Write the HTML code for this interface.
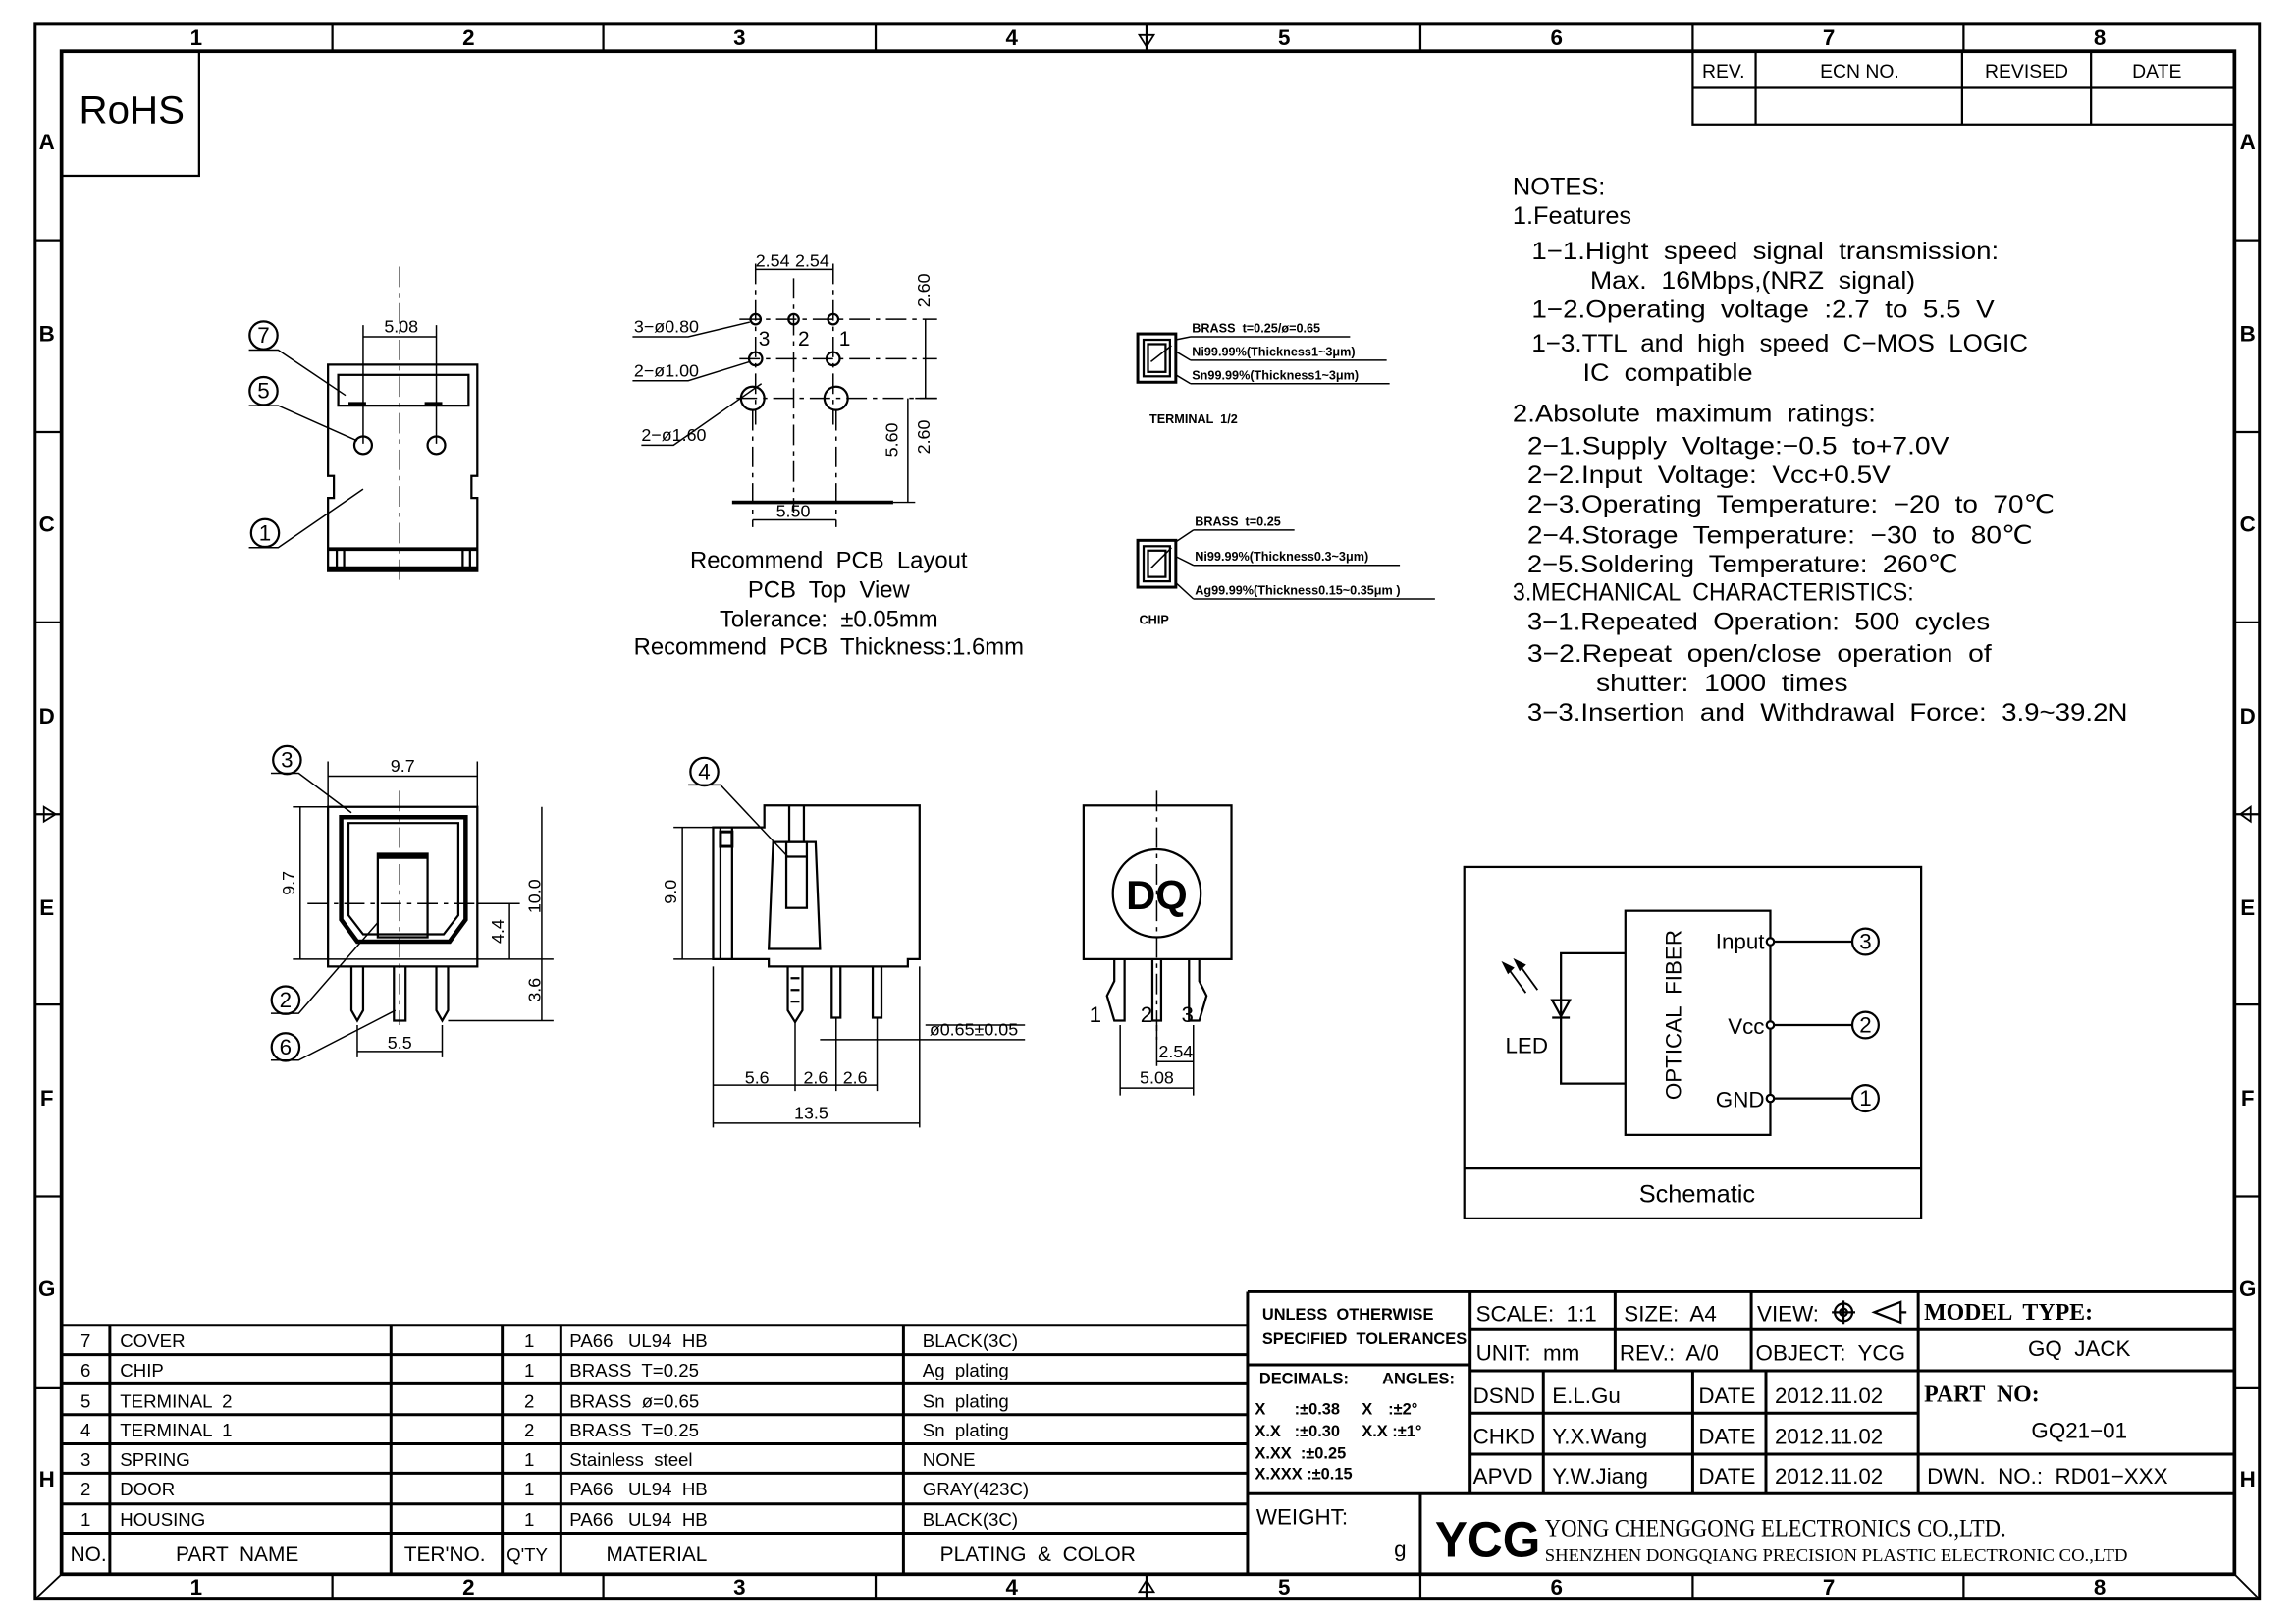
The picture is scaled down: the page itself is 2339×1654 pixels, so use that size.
<!DOCTYPE html>
<html><head><meta charset="utf-8"><style>
html,body{margin:0;padding:0;background:#fff}
svg{display:block}
text{font-family:"Liberation Sans",sans-serif;fill:#000;white-space:pre}
</style></head><body>
<svg width="2339" height="1654" viewBox="0 0 1568 1109" preserveAspectRatio="none" xmlns="http://www.w3.org/2000/svg" xml:space="preserve">
<g fill="none" stroke="#000">
<rect x="24" y="16" width="1519" height="1076" stroke-width="2"/>
<rect x="42" y="35" width="1484" height="1040" stroke-width="2.5"/>
<path d="M227 16V35M412 16V35M598 16V35M783 16V35M970 16V35M1156 16V35M1341 16V35M227 1075V1092M412 1075V1092M598 1075V1092M783 1075V1092M970 1075V1092M1156 1075V1092M1341 1075V1092" stroke-width="1.5"/>
<path d="M24 164H42M24 295H42M24 425H42M24 556H42M24 686H42M24 817H42M24 948H42M1526 164H1543M1526 295H1543M1526 425H1543M1526 556H1543M1526 686H1543M1526 817H1543M1526 948H1543" stroke-width="1.5"/>
<path d="M778 24L788 24L783 32ZM778 1087L788 1087L783 1079ZM30 551V561L38 556ZM1537 551V561L1530 556Z" stroke-width="1.2"/>
<path d="M24 1092L42 1075M1543 1092L1526 1075" stroke-width="1.2"/>
</g>
<g font-size="15" font-weight="bold" text-anchor="middle">
<text x="134" y="31">1</text><text x="320" y="31">2</text><text x="505" y="31">3</text><text x="691" y="31">4</text><text x="877" y="31">5</text><text x="1063" y="31">6</text><text x="1249" y="31">7</text><text x="1434" y="31">8</text>
<text x="134" y="1089">1</text><text x="320" y="1089">2</text><text x="505" y="1089">3</text><text x="691" y="1089">4</text><text x="877" y="1089">5</text><text x="1063" y="1089">6</text><text x="1249" y="1089">7</text><text x="1434" y="1089">8</text>
<text x="32" y="102">A</text><text x="32" y="233">B</text><text x="32" y="363">C</text><text x="32" y="494">D</text><text x="32" y="625">E</text><text x="32" y="755">F</text><text x="32" y="885">G</text><text x="32" y="1015">H</text>
<text x="1535" y="102">A</text><text x="1535" y="233">B</text><text x="1535" y="363">C</text><text x="1535" y="494">D</text><text x="1535" y="625">E</text><text x="1535" y="755">F</text><text x="1535" y="885">G</text><text x="1535" y="1015">H</text>
</g>
<rect x="42" y="35" width="94" height="85" fill="none" stroke="#000" stroke-width="1.5"/>
<text x="90" y="84" font-size="27" text-anchor="middle">RoHS</text>
<g fill="none" stroke="#000" stroke-width="1.5"><rect x="1156" y="35" width="370" height="50"/><path d="M1156 60H1526M1199 35V85M1340 35V85M1428 35V85"/></g>
<g font-size="13" text-anchor="middle"><text x="1177" y="53">REV.</text><text x="1270" y="53">ECN NO.</text><text x="1384" y="53">REVISED</text><text x="1473" y="53">DATE</text></g>
<g font-size="17">
<text x="1033" y="133">NOTES:</text>
<text x="1033" y="153">1.Features</text>
<text x="1046" y="177" textLength="319" lengthAdjust="spacingAndGlyphs">1−1.Hight  speed  signal  transmission:</text>
<text x="1086" y="197" textLength="222" lengthAdjust="spacingAndGlyphs">Max.  16Mbps,(NRZ  signal)</text>
<text x="1046" y="217" textLength="316" lengthAdjust="spacingAndGlyphs">1−2.Operating  voltage  :2.7  to  5.5  V</text>
<text x="1046" y="240" textLength="339" lengthAdjust="spacingAndGlyphs">1−3.TTL  and  high  speed  C−MOS  LOGIC</text>
<text x="1081" y="260" textLength="116" lengthAdjust="spacingAndGlyphs">IC  compatible</text>
<text x="1033" y="288" textLength="248" lengthAdjust="spacingAndGlyphs">2.Absolute  maximum  ratings:</text>
<text x="1043" y="310" textLength="288" lengthAdjust="spacingAndGlyphs">2−1.Supply  Voltage:−0.5  to+7.0V</text>
<text x="1043" y="330" textLength="248" lengthAdjust="spacingAndGlyphs">2−2.Input  Voltage:  Vcc+0.5V</text>
<text x="1043" y="350" textLength="360" lengthAdjust="spacingAndGlyphs">2−3.Operating  Temperature:  −20  to  70℃</text>
<text x="1043" y="371" textLength="345" lengthAdjust="spacingAndGlyphs">2−4.Storage  Temperature:  −30  to  80℃</text>
<text x="1043" y="391" textLength="294" lengthAdjust="spacingAndGlyphs">2−5.Soldering  Temperature:  260℃</text>
<text x="1033" y="410" textLength="274" lengthAdjust="spacingAndGlyphs">3.MECHANICAL  CHARACTERISTICS:</text>
<text x="1043" y="430" textLength="316" lengthAdjust="spacingAndGlyphs">3−1.Repeated  Operation:  500  cycles</text>
<text x="1043" y="452" textLength="317" lengthAdjust="spacingAndGlyphs">3−2.Repeat  open/close  operation  of</text>
<text x="1090" y="472" textLength="172" lengthAdjust="spacingAndGlyphs">shutter:  1000  times</text>
<text x="1043" y="492" textLength="410" lengthAdjust="spacingAndGlyphs">3−3.Insertion  and  Withdrawal  Force:  3.9~39.2N</text>
</g>
<g fill="none" stroke="#000" stroke-width="1.5">
<path d="M224 249H326V325H322V340H326V390H224V340H228V325H224Z"/>
<rect x="231" y="256" width="89" height="21"/>
<path d="M238 276H250M290 276H302" stroke-width="3"/>
<circle cx="248" cy="304" r="6"/><circle cx="298" cy="304" r="6"/>
<path d="M224 375H326" stroke-width="2.5"/><path d="M224 388H326" stroke-width="2.5"/>
<path d="M230 375V388M235 375V388M316 375V388M321 375V388"/>
<path d="M273 182V398" stroke-width="1" stroke-dasharray="14 4 3 4"/>
<path d="M248 222V303M298 222V303M248 230H298" stroke-width="1"/>
<path d="M170 239H190L236 270M170 277H190L244 301M170 374H190L248 334" stroke-width="1"/>
<circle cx="180" cy="229" r="9.5"/><circle cx="180" cy="267" r="9.5"/><circle cx="181" cy="364" r="9.5"/>
</g>
<g font-size="12" text-anchor="middle"><text x="274" y="227">5.08</text></g>
<g font-size="15" text-anchor="middle"><text x="180" y="234">7</text><text x="180" y="272">5</text><text x="181" y="369">1</text></g>
<g fill="none" stroke="#000" stroke-width="1.5">
<circle cx="516" cy="218" r="3.5"/><circle cx="542" cy="218" r="3.5"/><circle cx="569" cy="218" r="3.5"/>
<circle cx="516" cy="245" r="4.5"/><circle cx="569" cy="245" r="4.5"/>
<circle cx="514" cy="272" r="8"/><circle cx="571" cy="272" r="8"/>
<g stroke-width="1" stroke-dasharray="14 4 3 4"><path d="M505 218H640M505 245H640M503 272H640M542 190V350M516 180V290M569 180V290M514 280V360M571 280V360"/></g>
<path d="M500 343H610" stroke-width="2.5"/>
<path d="M516 184H569M632 218V272M620 272V343M610 343H625M514 355H571M625 272H640" stroke-width="1"/>
<path d="M432 230H470L512 220M432 260H470L512 247M438 304H460L520 262" stroke-width="1"/>
</g>
<g font-size="12"><text x="516" y="182">2.54</text><text x="543" y="182">2.54</text>
<text x="433" y="227">3−ø0.80</text><text x="433" y="257">2−ø1.00</text><text x="438" y="301">2−ø1.60</text>
<text x="530" y="353">5.50</text>
<text x="518" y="236" font-size="14">3</text><text x="545" y="236" font-size="14">2</text><text x="573" y="236" font-size="14">1</text>
<text transform="translate(635 210) rotate(-90)">2.60</text><text transform="translate(635 310) rotate(-90)">2.60</text><text transform="translate(613 312) rotate(-90)">5.60</text></g>
<g font-size="16" text-anchor="middle"><text x="566" y="388">Recommend  PCB  Layout</text><text x="566" y="408">PCB  Top  View</text><text x="566" y="428">Tolerance:  ±0.05mm</text><text x="566" y="447">Recommend  PCB  Thickness:1.6mm</text></g>
<g fill="none" stroke="#000" stroke-width="1.5">
<rect x="777" y="228" width="26" height="33" stroke-width="2"/><rect x="781" y="232" width="18" height="25"/><rect x="784" y="235" width="12" height="19"/>
<path d="M813 230H922M813 246H947M813 262H949M803 232L813 230M803 240L813 246M803 256L813 262M786 247L800 236" stroke-width="1"/>
<rect x="777" y="369" width="26" height="32" stroke-width="2"/><rect x="781" y="373" width="18" height="24"/><rect x="784" y="376" width="12" height="18"/>
<path d="M815 362H884M815 386H956M815 409H980M803 370L815 362M803 380L815 386M803 398L815 409M786 388L800 374" stroke-width="1"/>
</g>
<g font-size="8.5" font-weight="bold"><text x="814" y="227">BRASS  t=0.25/ø=0.65</text><text x="814" y="243">Ni99.99%(Thickness1~3μm)</text><text x="814" y="259">Sn99.99%(Thickness1~3μm)</text><text x="785" y="289">TERMINAL  1/2</text>
<text x="816" y="359">BRASS  t=0.25</text><text x="816" y="383">Ni99.99%(Thickness0.3~3μm)</text><text x="816" y="406">Ag99.99%(Thickness0.15~0.35μm )</text><text x="778" y="426">CHIP</text></g>
<g fill="none" stroke="#000" stroke-width="1.5">
<path d="M224 551H326V660H224Z"/>
<path d="M233 558H318V628L307 643H244L233 628Z" stroke-width="3"/>
<path d="M238 562H313V625L303 638H248L238 625Z"/>
<rect x="258" y="583" width="34" height="57"/><path d="M258 585H292" stroke-width="3"/>
<path d="M224 655H326" stroke-width="1"/>
<path d="M240 660V690L244 697L248 690V660M269 660V697H277V660M298 660V690L302 697L306 690V660"/>
<path d="M210 617H355M273 540V700" stroke-width="1" stroke-dasharray="14 4 3 4"/>
<path d="M224 520V551M326 520V551M224 530H326M200 551H224M200 655H224M205 551V655M326 617H355M326 655H378M306 697H378M348 617V655M370 551V697M244 700V722M302 700V722M244 718H302" stroke-width="1"/>
<path d="M185 528H204L240 555M185 692H204L258 630M185 724H204L270 690" stroke-width="1"/>
<circle cx="196" cy="519" r="9.5"/><circle cx="195" cy="683" r="9.5"/><circle cx="195" cy="715" r="9.5"/>
</g>
<g font-size="12" text-anchor="middle"><text x="275" y="527">9.7</text><text x="273" y="716">5.5</text>
<text transform="translate(201 603) rotate(-90)">9.7</text><text transform="translate(344 636) rotate(-90)">4.4</text><text transform="translate(369 612) rotate(-90)">10.0</text><text transform="translate(369 676) rotate(-90)">3.6</text></g>
<g font-size="15" text-anchor="middle"><text x="196" y="524">3</text><text x="195" y="688">2</text><text x="195" y="720">6</text></g>
<g fill="none" stroke="#000" stroke-width="1.5">
<path d="M487 565H522V550H628V655H620V660H525V655H487Z"/>
<path d="M492 565V655M500 565V655" /><rect x="492" y="568" width="8" height="10" stroke-width="2"/>
<path d="M528 575H557L560 648H525Z"/><rect x="537" y="575" width="14" height="45"/><path d="M537 585H551"/>
<path d="M539 550V575M549 550V575"/>
<path d="M538 660V690L543 698L548 690V660M540 668H546M540 676H546M540 684H546"/>
<path d="M568 660V695H574V660M596 660V695H602V660"/>
<path d="M460 565H487M460 655H487M466 565V655M487 660V770M543 698V745M571 695V745M599 695V745M628 660V770M487 741H599M487 767H628M560 710H700M632 700H700" stroke-width="1"/>
<path d="M470 536H492L538 585" stroke-width="1"/>
<circle cx="481" cy="527" r="9.5"/>
</g>
<g font-size="12" text-anchor="middle"><text x="517" y="740">5.6</text><text x="557" y="740">2.6</text><text x="584" y="740">2.6</text><text x="554" y="764">13.5</text><text x="665" y="707">ø0.65±0.05</text><text transform="translate(462 609) rotate(-90)">9.0</text></g>
<text x="481" y="532" font-size="15" text-anchor="middle">4</text>
<g fill="none" stroke="#000" stroke-width="1.5">
<rect x="740" y="550" width="101" height="105"/>
<circle cx="790" cy="610" r="30"/>
<path d="M790 540V710" stroke-width="1" stroke-dasharray="14 4 3 4"/>
<path d="M761 655V670L756 680L761 697H768V655M787 655V697H793V655M812 655V697H819L824 680L819 670V655"/>
<path d="M765 700V748M815 700V748M790 700V728M790 725H815M765 743H815" stroke-width="1"/>
</g>
<text x="790" y="621" font-size="28" font-weight="bold" text-anchor="middle">DQ</text>
<g font-size="15" text-anchor="middle"><text x="748" y="698">1</text><text x="783" y="698">2</text><text x="811" y="698">3</text></g>
<g font-size="12" text-anchor="middle"><text x="803" y="722">2.54</text><text x="790" y="740">5.08</text></g>
<g fill="none" stroke="#000" stroke-width="1.5">
<rect x="1000" y="592" width="312" height="240"/><path d="M1000 798H1312"/>
<rect x="1110" y="622" width="99" height="153"/>
<path d="M1110 651H1066V740H1110M1060 683H1072L1066 694ZM1060 695H1072"/>
<path d="M1209 643H1265M1209 700H1265M1209 750H1265"/>
<circle cx="1209" cy="643" r="2.5" fill="#fff"/><circle cx="1209" cy="700" r="2.5" fill="#fff"/><circle cx="1209" cy="750" r="2.5" fill="#fff"/>
<circle cx="1274" cy="643" r="9"/><circle cx="1274" cy="700" r="9"/><circle cx="1274" cy="750" r="9"/>
<path d="M1042 678L1029 660M1050 676L1037 658" stroke-width="1.2"/>
<path d="M1027 658L1033 661L1030 664ZM1035 656L1041 659L1038 662Z" fill="#000"/>
</g>
<g font-size="15"><text x="1205" y="648" text-anchor="end">Input</text><text x="1205" y="706" text-anchor="end">Vcc</text><text x="1205" y="756" text-anchor="end">GND</text>
<text x="1028" y="719">LED</text>
<text transform="translate(1148 693) rotate(-90)" text-anchor="middle">OPTICAL  FIBER</text>
<text x="1274" y="648" text-anchor="middle">3</text><text x="1274" y="705" text-anchor="middle">2</text><text x="1274" y="755" text-anchor="middle">1</text></g>
<text x="1159" y="821" font-size="17" text-anchor="middle">Schematic</text>
<g fill="none" stroke="#000" stroke-width="2">
<path d="M42 905H852M42 925H852M42 945H852M42 966H852M42 986H852M42 1006H852M42 1027H852M42 1047H852"/>
<path d="M75 905V1075M267 905V1075M343 905V1075M383 905V1075M617 905V1075M852 882V1075"/>
</g>
<g font-size="12.5">
<text x="55" y="920">7</text><text x="82" y="920">COVER</text><text x="358" y="920">1</text><text x="389" y="920">PA66   UL94  HB</text><text x="630" y="920">BLACK(3C)</text>
<text x="55" y="940">6</text><text x="82" y="940">CHIP</text><text x="358" y="940">1</text><text x="389" y="940">BRASS  T=0.25</text><text x="630" y="940">Ag  plating</text>
<text x="55" y="961">5</text><text x="82" y="961">TERMINAL  2</text><text x="358" y="961">2</text><text x="389" y="961">BRASS  ø=0.65</text><text x="630" y="961">Sn  plating</text>
<text x="55" y="981">4</text><text x="82" y="981">TERMINAL  1</text><text x="358" y="981">2</text><text x="389" y="981">BRASS  T=0.25</text><text x="630" y="981">Sn  plating</text>
<text x="55" y="1001">3</text><text x="82" y="1001">SPRING</text><text x="358" y="1001">1</text><text x="389" y="1001">Stainless  steel</text><text x="630" y="1001">NONE</text>
<text x="55" y="1021">2</text><text x="82" y="1021">DOOR</text><text x="358" y="1021">1</text><text x="389" y="1021">PA66   UL94  HB</text><text x="630" y="1021">GRAY(423C)</text>
<text x="55" y="1042">1</text><text x="82" y="1042">HOUSING</text><text x="358" y="1042">1</text><text x="389" y="1042">PA66   UL94  HB</text><text x="630" y="1042">BLACK(3C)</text>
</g>
<g font-size="14"><text x="48" y="1066">NO.</text><text x="120" y="1066">PART  NAME</text><text x="276" y="1066">TER'NO.</text><text x="346" y="1066" font-size="12.5">Q'TY</text><text x="414" y="1066">MATERIAL</text><text x="642" y="1066">PLATING  &amp;  COLOR</text></g>
<g fill="none" stroke="#000" stroke-width="2">
<path d="M852 882H1526M1004 908H1526M852 932H1004M1004 936H1526M1004 965H1310M1004 993H1526M852 1020H1526"/>
<path d="M1004 882V1020M1103 882V936M1196 882V936M1310 882V1020M1054 936V1020M1156 936V1020M1206 936V1020M970 1020V1075"/>
</g>
<g font-size="11" font-weight="bold"><text x="862" y="901">UNLESS  OTHERWISE</text><text x="862" y="918">SPECIFIED  TOLERANCES</text>
<text x="860" y="945">DECIMALS:</text><text x="944" y="945">ANGLES:</text>
<text x="857" y="966">X</text><text x="884" y="966">:±0.38</text><text x="930" y="966">X</text><text x="948" y="966">:±2°</text>
<text x="857" y="981">X.X</text><text x="884" y="981">:±0.30</text><text x="930" y="981">X.X :±1°</text>
<text x="857" y="996">X.XX  :±0.25</text><text x="857" y="1010">X.XXX :±0.15</text></g>
<g font-size="15"><text x="1008" y="902">SCALE:  1:1</text><text x="1109" y="902">SIZE:  A4</text><text x="1200" y="902">VIEW:</text>
<text x="1008" y="929">UNIT:  mm</text><text x="1106" y="929">REV.:  A/0</text><text x="1199" y="929">OBJECT:  YCG</text>
<text x="1006" y="958">DSND</text><text x="1060" y="958">E.L.Gu</text><text x="1160" y="958">DATE</text><text x="1212" y="958">2012.11.02</text>
<text x="1006" y="986">CHKD</text><text x="1060" y="986">Y.X.Wang</text><text x="1160" y="986">DATE</text><text x="1212" y="986">2012.11.02</text>
<text x="1006" y="1013">APVD</text><text x="1060" y="1013">Y.W.Jiang</text><text x="1160" y="1013">DATE</text><text x="1212" y="1013">2012.11.02</text>
<text x="1316" y="1013">DWN.  NO.:  RD01−XXX</text>
<text x="1420" y="926" text-anchor="middle">GQ  JACK</text><text x="1420" y="982" text-anchor="middle">GQ21−01</text>
<text x="858" y="1041">WEIGHT:</text><text x="952" y="1063">g</text></g>
<g font-size="16" font-weight="bold"><text x="1314" y="901" style="font-family:'Liberation Serif',serif">MODEL  TYPE:</text><text x="1314" y="957" style="font-family:'Liberation Serif',serif">PART  NO:</text></g>
<g fill="none" stroke="#000" stroke-width="1.5"><circle cx="1259" cy="896" r="6"/><circle cx="1259" cy="896" r="2.5"/><path d="M1251 896H1267M1259 888V904M1280 896L1298 889V903ZM1298 896H1302"/></g>
<text x="980" y="1063" font-size="34" font-weight="bold" textLength="72" lengthAdjust="spacingAndGlyphs">YCG</text>
<text x="1055" y="1049" font-size="17" style="font-family:'Liberation Serif',serif" textLength="315" lengthAdjust="spacingAndGlyphs">YONG CHENGGONG ELECTRONICS CO.,LTD.</text>
<text x="1055" y="1066" font-size="12" style="font-family:'Liberation Serif',serif" textLength="398" lengthAdjust="spacingAndGlyphs">SHENZHEN DONGQIANG PRECISION PLASTIC ELECTRONIC CO.,LTD</text>
</svg>
</body></html>
